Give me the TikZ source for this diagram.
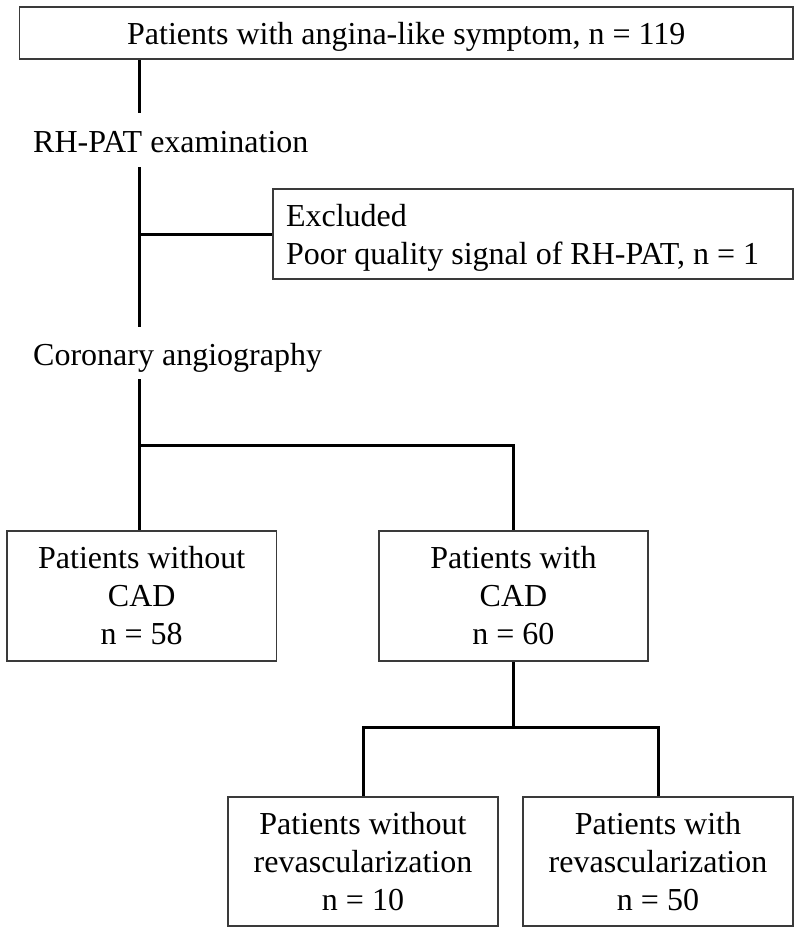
\documentclass[tikz,border=0pt]{standalone}
\usepackage{fontspec}
\setmainfont{Liberation Serif}
\definecolor{boxgray}{HTML}{3A3A3A}
\begin{document}
\begin{tikzpicture}[x=1pt,y=-1pt,
  every node/.style={font=\fontsize{32}{38}\selectfont, inner sep=0pt},
  box/.style={draw=boxgray, line width=1.8pt, rectangle, align=center},
  lbl/.style={anchor=base west, inner sep=0pt},
  conn/.style={draw=black, line width=3pt}]
\useasboundingbox (0,0) rectangle (800,934);
\coordinate (sp) at (139,0);
\node[box, minimum width=773.5pt, minimum height=52pt, text height=26pt, text depth=2pt] (top) at (406.25,33) {Patients with angina-like symptom, n = 119};
\node[lbl, text height=39pt, text depth=15pt] (rh) at (33,152) {RH-PAT examination};
\node[box, minimum width=520pt, minimum height=90pt, align=flush left, text width=494pt, inner xsep=13pt] (excl) at (533,234) {\rule{0pt}{30pt}Excluded\\Poor quality signal of RH-PAT, n = 1};
\node[lbl, text height=38pt, text depth=14pt] (ca) at (33,365) {Coronary angiography};
\node[box, minimum width=269.5pt, minimum height=130pt] (nocad) at (141.75,596) {Patients without\\CAD\\n = 58};
\node[box, minimum width=269pt, minimum height=130pt] (cad) at (513.5,596) {Patients with\\CAD\\n = 60};
\node[box, minimum width=270pt, minimum height=129pt] (norev) at (363,861.5) {Patients without\\revascularization\\n = 10};
\node[box, minimum width=270pt, minimum height=129pt] (rev) at (658,861.5) {Patients with\\revascularization\\n = 50};
\coordinate (j1) at (0,445);
\coordinate (j2) at (0,727);
\draw[conn] (top.south -| sp) -- (rh.north -| sp);
\draw[conn] (rh.south -| sp) -- (ca.north -| sp);
\draw[conn] (excl.west -| sp) -- (excl.west);
\draw[conn] (ca.south -| sp) -- (nocad.north -| sp);
\draw[conn] (sp |- j1) -- (cad.north |- j1) -- (cad.north);
\draw[conn] (cad.south) -- (cad.south |- j2);
\draw[conn] (norev.north) -- (norev.north |- j2) -- (rev.north |- j2) -- (rev.north);
\end{tikzpicture}
\end{document}
